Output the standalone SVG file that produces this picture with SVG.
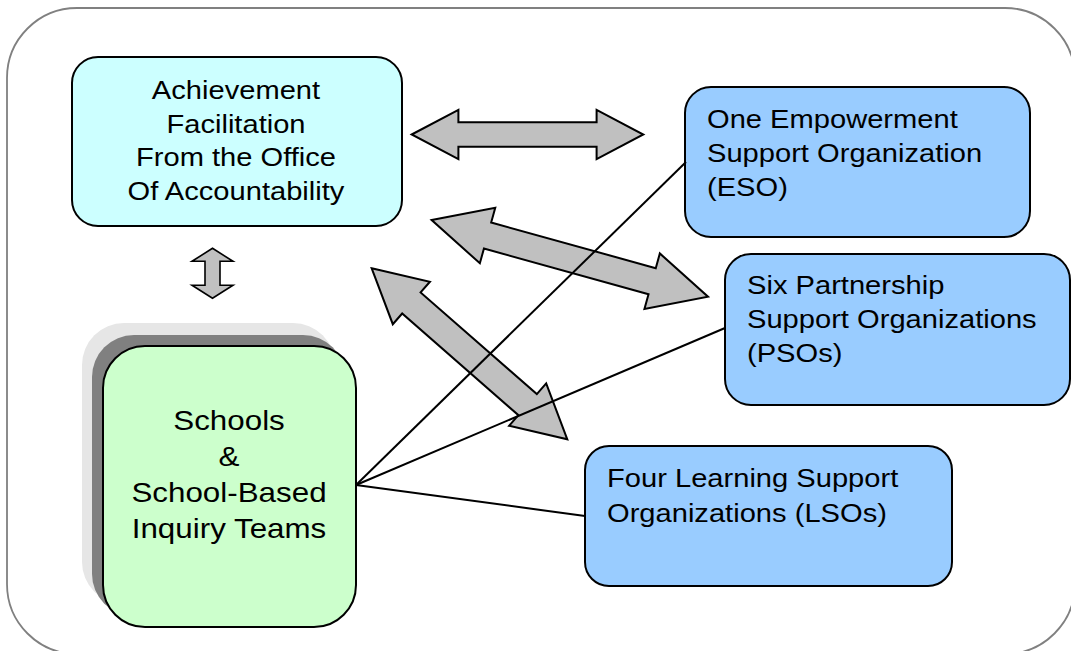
<svg xmlns="http://www.w3.org/2000/svg" width="1071" height="651" viewBox="0 0 1071 651">
  <style>
    .frame { fill: #ffffff; stroke: #808080; stroke-width: 1.8; }
    .box { stroke: #000000; stroke-width: 2; }
    .cyan { fill: #CCFFFF; }
    .blue { fill: #99CCFF; }
    .green { fill: #CCFFCC; }
    .t { font-family: "Liberation Sans", Arial, sans-serif; font-size: 26px; fill: #000000; }
    .ts { font-family: "Liberation Sans", Arial, sans-serif; font-size: 28px; fill: #000000; }
    .arrow { fill: #C0C0C0; stroke: #000000; stroke-width: 2; stroke-linejoin: miter; }
    .link { stroke: #000000; stroke-width: 2; fill: none; }
  </style>
  <rect width="1071" height="651" fill="#ffffff"/>
  <rect class="frame" x="7" y="8" width="1068" height="646" rx="70" ry="70"/>

  <g id="schools">
    <rect x="82" y="323" width="253" height="281" rx="42" ry="42" fill="#E6E6E6"/>
    <rect x="92" y="335" width="253" height="281" rx="42" ry="42" fill="#808080"/>
    <rect class="box green" x="103" y="346" width="253" height="281" rx="42" ry="42"/>
    <text class="ts" text-anchor="middle" transform="translate(229 430) scale(1.12 1)">Schools</text>
    <text class="ts" text-anchor="middle" transform="translate(229 466) scale(1.12 1)">&amp;</text>
    <text class="ts" text-anchor="middle" transform="translate(229 502) scale(1.12 1)">School-Based</text>
    <text class="ts" text-anchor="middle" transform="translate(229 538) scale(1.12 1)">Inquiry Teams</text>
  </g>

  <g id="achievement">
    <rect class="box cyan" x="72" y="57" width="330" height="169" rx="26" ry="26"/>
    <text class="t" text-anchor="middle" transform="translate(236 99) scale(1.12 1)">Achievement</text>
    <text class="t" text-anchor="middle" transform="translate(236 132.5) scale(1.12 1)">Facilitation</text>
    <text class="t" text-anchor="middle" transform="translate(236 166) scale(1.12 1)">From the Office</text>
    <text class="t" text-anchor="middle" transform="translate(236 199.5) scale(1.12 1)">Of Accountability</text>
  </g>

  <g id="eso">
    <rect class="box blue" x="685" y="87" width="345" height="150" rx="26" ry="26"/>
    <text class="t" transform="translate(707 128) scale(1.12 1)">One Empowerment</text>
    <text class="t" transform="translate(707 162) scale(1.12 1)">Support Organization</text>
    <text class="t" transform="translate(707 196) scale(1.12 1)">(ESO)</text>
  </g>

  <g id="pso">
    <rect class="box blue" x="725" y="254" width="345" height="151" rx="26" ry="26"/>
    <text class="t" transform="translate(747 294) scale(1.12 1)">Six Partnership</text>
    <text class="t" transform="translate(747 328) scale(1.12 1)">Support Organizations</text>
    <text class="t" transform="translate(747 362) scale(1.12 1)">(PSOs)</text>
  </g>

  <g id="lso">
    <rect class="box blue" x="585" y="446" width="367" height="140" rx="24" ry="24"/>
    <text class="t" transform="translate(607 487) scale(1.12 1)">Four Learning Support</text>
    <text class="t" transform="translate(607 521.5) scale(1.12 1)">Organizations (LSOs)</text>
  </g>

  <g id="connectors">
    <polygon class="arrow" points="411.7,134.5 458.4,109.8 458.4,122.3 596.6,122.3 596.6,109.8 643.3,134.5 596.6,159.2 596.6,146.7 458.4,146.7 458.4,159.2"/>
    <polygon class="arrow" transform="translate(569.85 258.35) rotate(15.51)" points="-143.4,0 -85.4,-28.8 -85.4,-13.5 85.4,-13.5 85.4,-28.8 143.4,0 85.4,28.8 85.4,13.5 -85.4,13.5 -85.4,28.8"/>
    <polygon class="arrow" transform="translate(469.5 353.8) rotate(41.16)" points="-129.9,0 -77.2,-28.2 -77.2,-14 77.2,-14 77.2,-28.2 129.9,0 77.2,28.2 77.2,14 -77.2,14 -77.2,28.2"/>
    <polygon class="arrow" style="stroke-width:1.6" points="212.5,248.3 233,261.3 220,261.3 220,285.3 233,285.3 212.5,298.3 192,285.3 205,285.3 205,261.3 192,261.3"/>
    <line class="link" x1="356" y1="485" x2="686" y2="162"/>
    <line class="link" x1="356" y1="485" x2="725" y2="328"/>
    <line class="link" x1="356" y1="485" x2="585" y2="516"/>
  </g>
</svg>
